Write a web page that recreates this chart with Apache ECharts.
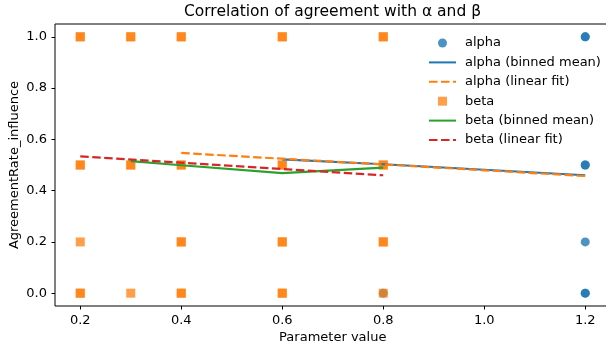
<!DOCTYPE html>
<html>
<head>
<meta charset="utf-8">
<script src="https://cdn.jsdelivr.net/npm/echarts@6/dist/echarts.min.js"></script>
<style>
html,body{margin:0;padding:0;background:#fff;}
#chart{width:606px;height:352px;}
</style>
</head>
<body>
<div id="chart"></div>
<script>
// ---- data ----
const xTicks = [0.2, 0.4, 0.6, 0.8, 1.0, 1.2];
const yTicks = [0.0, 0.2, 0.4, 0.6, 0.8, 1.0];

const alphaX = [0.8, 1.2, 1.2, 1.2, 1.2, 1.2, 1.2, 1.2];
const alphaY = [0.0, 1.0, 1.0, 0.5, 0.5, 0.2, 0.0, 0.0];

const betaX = [0.2, 0.2, 0.2, 0.2, 0.2, 0.2, 0.2,
               0.3, 0.3, 0.3, 0.3, 0.3,
               0.4, 0.4, 0.4, 0.4, 0.4, 0.4, 0.4, 0.4,
               0.6, 0.6, 0.6, 0.6, 0.6, 0.6, 0.6, 0.6,
               0.8, 0.8, 0.8, 0.8, 0.8, 0.8, 0.8];
const betaY = [1.0, 1.0, 0.5, 0.5, 0.2, 0.0, 0.0,
               1.0, 1.0, 0.5, 0.5, 0.0,
               1.0, 1.0, 0.5, 0.5, 0.2, 0.2, 0.0, 0.0,
               1.0, 1.0, 0.5, 0.5, 0.2, 0.2, 0.0, 0.0,
               1.0, 1.0, 0.5, 0.5, 0.2, 0.2, 0.0];

const alphaMeanX = [0.6, 0.8, 1.2];
const alphaMeanY = [0.522, 0.503, 0.460];
const alphaFitX = [0.4, 1.2];
const alphaFitY = [0.547, 0.457];

const betaMeanX = [0.3, 0.4, 0.6, 0.8];
const betaMeanY = [0.515, 0.499, 0.468, 0.490];
const betaFitX = [0.2, 0.8];
const betaFitY = [0.534, 0.460];

const seriesNames = ['alpha', 'alpha (binned mean)', 'alpha (linear fit)',
                     'beta', 'beta (binned mean)', 'beta (linear fit)'];

// ---- build ----
const zip = (xs, ys) => xs.map((x, i) => [x, ys[i]]);
const FONT = 'DejaVu Sans';
const FS = 13;
const dash = [8.5, 3.5];
const noMarker = {opacity: 0, color: 'transparent', borderWidth: 0};

const chart = echarts.init(document.getElementById('chart'), null, {renderer: 'canvas'});
chart.setOption({
  animation: false,
  backgroundColor: '#fff',
  textStyle: {fontFamily: FONT},
  title: {
    text: 'Correlation of agreement with \u03b1 and \u03b2',
    left: 332.5, top: 4, textAlign: 'center', padding: 0,
    textStyle: {fontFamily: FONT, fontSize: 15.5, fontWeight: 'normal', color: '#000'}
  },
  grid: {
    left: 55, top: 24, width: 555.5, height: 282,
    outerBoundsMode: 'none', containLabel: false,
    show: true, borderColor: '#000', borderWidth: 1, backgroundColor: 'transparent'
  },
  legend: {
    orient: 'vertical', left: 428, top: 36.5, padding: 0,
    itemWidth: 27, itemHeight: 9, itemGap: 6.4,
    textStyle: {fontFamily: FONT, fontSize: FS, color: '#000', lineHeight: 12, padding: [0, 0, 0, 4]},
    data: [
      {name: seriesNames[0], icon: 'circle'},
      {name: seriesNames[1], itemStyle: noMarker},
      {name: seriesNames[2], itemStyle: noMarker},
      {name: seriesNames[3], icon: 'path://M0,0h10v10h-10z'},
      {name: seriesNames[4], itemStyle: noMarker},
      {name: seriesNames[5], itemStyle: noMarker}
    ]
  },
  xAxis: {
    type: 'value', min: 0.15, max: 1.25,
    name: 'Parameter value', nameLocation: 'middle', nameGap: 25, nameMoveOverlap: false,
    nameTextStyle: {fontFamily: FONT, fontSize: FS, color: '#000'},
    axisLine: {show: false, onZero: false},
    splitLine: {show: false},
    axisTick: {show: true, length: 3.5, lineStyle: {color: '#000'}, customValues: xTicks},
    axisLabel: {fontFamily: FONT, fontSize: FS, color: '#000', margin: 8.5,
      customValues: xTicks, formatter: v => v.toFixed(1)}
  },
  yAxis: {
    type: 'value', min: -0.05, max: 1.05,
    name: 'AgreementRate_influence', nameLocation: 'middle', nameGap: 33.5, nameRotate: 90,
    nameMoveOverlap: false,
    nameTextStyle: {fontFamily: FONT, fontSize: FS, color: '#000'},
    axisLine: {show: false, onZero: false},
    splitLine: {show: false},
    axisTick: {show: true, length: 3.5, lineStyle: {color: '#000'}, customValues: yTicks},
    axisLabel: {fontFamily: FONT, fontSize: FS, color: '#000', margin: 8,
      customValues: yTicks, formatter: v => v.toFixed(1)}
  },
  series: [
    {name: seriesNames[0], type: 'scatter', data: zip(alphaX, alphaY),
     symbol: 'circle', symbolSize: 9,
     itemStyle: {color: '#1f77b4', opacity: 0.8}},
    {name: seriesNames[1], type: 'line', data: zip(alphaMeanX, alphaMeanY),
     symbol: 'none', showSymbol: false,
     lineStyle: {color: '#1f77b4', width: 2.2}, itemStyle: {color: '#1f77b4'}},
    {name: seriesNames[2], type: 'line', data: zip(alphaFitX, alphaFitY),
     symbol: 'none', showSymbol: false,
     lineStyle: {color: '#ff7f0e', width: 2.2, type: dash}, itemStyle: {color: '#ff7f0e'}},
    {name: seriesNames[3], type: 'scatter', data: zip(betaX, betaY),
     symbol: 'rect', symbolSize: 9,
     itemStyle: {color: '#ff7f0e', opacity: 0.75}},
    {name: seriesNames[4], type: 'line', data: zip(betaMeanX, betaMeanY),
     symbol: 'none', showSymbol: false,
     lineStyle: {color: '#2ca02c', width: 2.2}, itemStyle: {color: '#2ca02c'}},
    {name: seriesNames[5], type: 'line', data: zip(betaFitX, betaFitY),
     symbol: 'none', showSymbol: false,
     lineStyle: {color: '#d62728', width: 2.2, type: dash}, itemStyle: {color: '#d62728'}}
  ]
});
</script>
</body>
</html>
